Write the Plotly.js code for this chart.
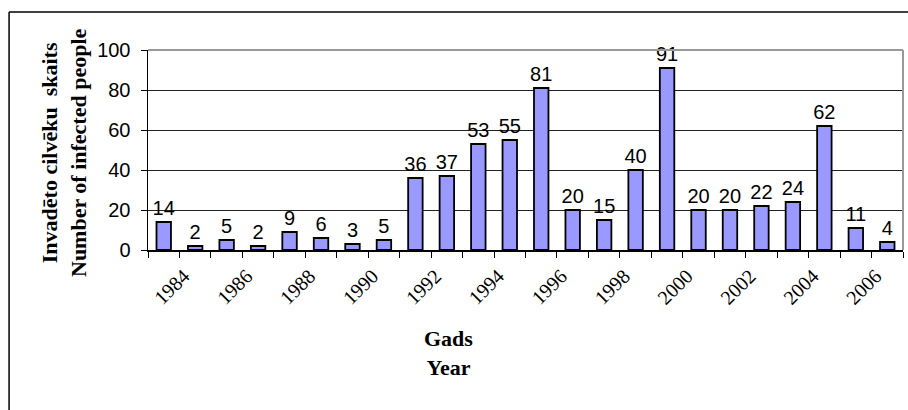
<!DOCTYPE html>
<html>
<head>
<meta charset="utf-8">
<script src="https://cdn.plot.ly/plotly-3.0.1.min.js"></script>
<style>html,body{margin:0;padding:0;background:#fff;}#chart{width:908px;height:410px;}</style>
</head>
<body>
<div id="chart"></div>
<script>
const years = ["1984","1985","1986","1987","1988","1989","1990","1991","1992","1993","1994","1995","1996","1997","1998","1999","2000","2001","2002","2003","2004","2005","2006","2007"];
const infected = [14,2,5,2,9,6,3,5,36,37,53,55,81,20,15,40,91,20,20,22,24,62,11,4];
const tickLabels = ["1984","","1986","","1988","","1990","","1992","","1994","","1996","","1998","","2000","","2002","","2004","","2006",""];
const yTitle = "Invadēto cilvēku\u00a0 skaits<br>Number of infected people";
const xTitle = "Gads<br>Year";

const SANS = "Liberation Sans, Arial, sans-serif";
const SERIF = "Liberation Serif, DejaVu Serif, serif";

const trace = {
  type: "bar", x: years, y: infected, text: infected.map(String),
  textposition: "outside", constraintext: "none", cliponaxis: false,
  textfont: {family: SANS, size: 20, color: "#000"},
  marker: {color: "#9999FF", line: {color: "#000", width: 1.8}},
  hoverinfo: "none"
};

const layout = {
  width: 908, height: 410,
  margin: {l: 148, r: 5, t: 50, b: 160},
  paper_bgcolor: "#fff", plot_bgcolor: "#fff",
  font: {family: SANS, size: 20, color: "#000"},
  bargap: 0.54, showlegend: false,
  xaxis: {
    type: "category", tickmode: "array", tickvals: years, ticktext: tickLabels,
    tickson: "boundaries", ticks: "outside", ticklen: 6, tickcolor: "#000",
    tickangle: -45, ticklabelshift: 20, ticklabelstandoff: 5,
    tickfont: {family: SERIF, size: 20, color: "#000"},
    showline: true, linecolor: "#000", linewidth: 1.5, showgrid: false, zeroline: false
  },
  yaxis: {
    range: [0, 100], dtick: 20, tick0: 0,
    ticks: "outside", ticklen: 6, tickcolor: "#000", ticklabelstandoff: 6,
    tickfont: {family: SANS, size: 20, color: "#000"},
    showline: true, linecolor: "#000", linewidth: 1.5,
    showgrid: true, gridcolor: "#222", gridwidth: 1, zeroline: false
  },
  shapes: [
    {type: "line", xref: "paper", yref: "paper", x0: 0, x1: 1, y0: 1, y1: 1, line: {color: "#999", width: 2}},
    {type: "line", xref: "paper", yref: "paper", x0: 1, x1: 1, y0: 0, y1: 1, line: {color: "#999", width: 2}},
    {type: "line", xref: "paper", yref: "paper", x0: -0.184, x1: 1.1, y0: 1.19, y1: 1.19, line: {color: "#000", width: 1.5}},
    {type: "line", xref: "paper", yref: "paper", x0: -0.184, x1: -0.184, y0: 1.19, y1: -1, line: {color: "#000", width: 1.5}}
  ],
  annotations: [
    {text: yTitle, xref: "paper", yref: "paper", x: (64 - 148) / 755, y: (250 - 153) / 200, textangle: -90, showarrow: false,
     xanchor: "center", yanchor: "middle", font: {family: SERIF, size: 22, color: "#000", weight: "bold"}},
    {text: xTitle, xref: "paper", yref: "paper", x: (448 - 148) / 755, y: (250 - 353) / 200, showarrow: false,
     xanchor: "center", yanchor: "middle", font: {family: SERIF, size: 22, color: "#000", weight: "bold"}}
  ]
};

Plotly.newPlot("chart", [trace], layout, {displayModeBar: false, staticPlot: true});
</script>
</body>
</html>
